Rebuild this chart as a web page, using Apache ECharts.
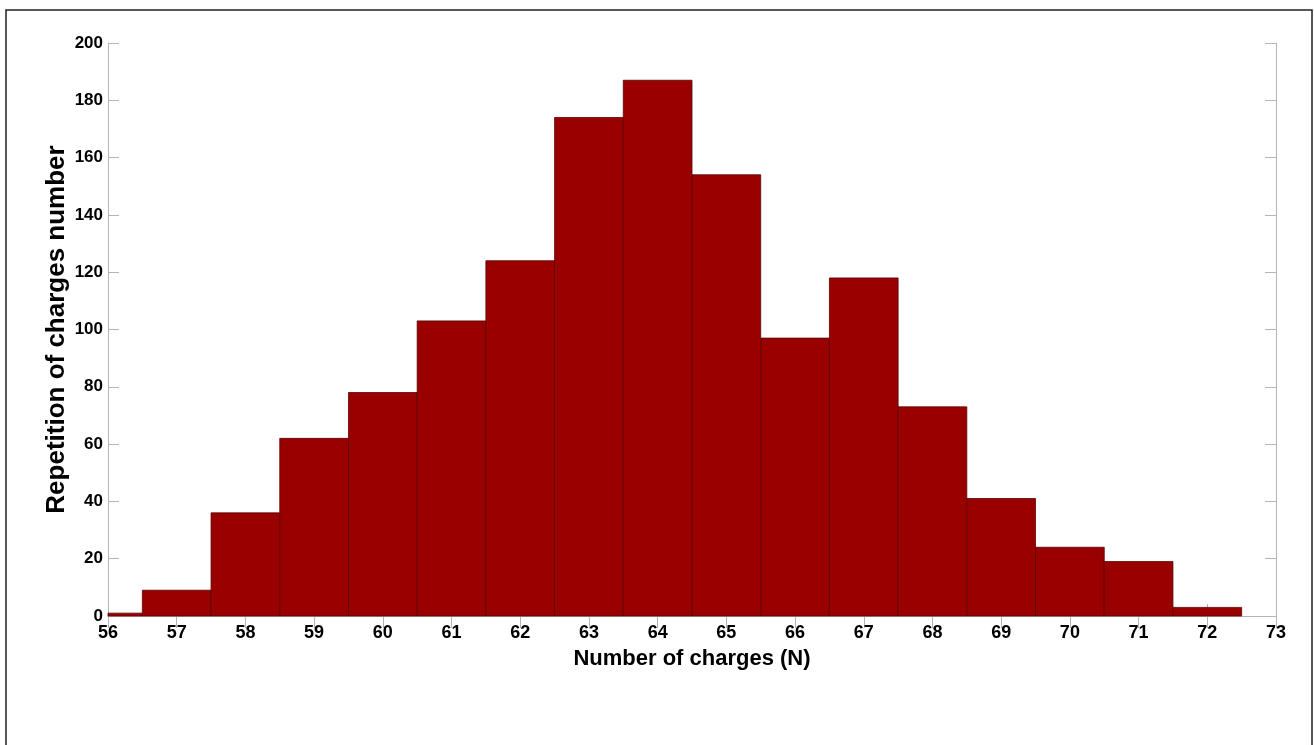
<!DOCTYPE html>
<html>
<head>
<meta charset="utf-8">
<script src="https://cdn.jsdelivr.net/npm/echarts@6/dist/echarts.min.js"></script>
<style>
  html, body { margin: 0; padding: 0; background: #fff; }
  #chart { width: 1314px; height: 745px; }
</style>
</head>
<body>
<div id="chart"></div>
<script>
// bin centres (number of charges) and counts
const CHARGES = [56, 57, 58, 59, 60, 61, 62, 63, 64, 65, 66, 67, 68, 69, 70, 71, 72];
const COUNTS = [1, 9, 36, 62, 78, 103, 124, 174, 187, 154, 97, 118, 73, 41, 24, 19, 3];

const FONT = "'Liberation Sans Narrow', 'Liberation Sans', Arial, sans-serif";
const AXIS_GREY = "#b4b4b4";

let chart = echarts.init(document.getElementById("chart"));

let option = {
  backgroundColor: "#fff",
  animation: false,
  graphic: [
    {
      type: "rect",
      shape: { x: 6, y: 10, width: 1306, height: 760 },
      style: { fill: "none", stroke: "#222", lineWidth: 1.5 },
      silent: true,
    },
  ],
  grid: { left: 108, right: 38, top: 43, bottom: 129 },
  xAxis: [
    {
      type: "value",
      min: 56,
      max: 73,
      interval: 1,
      name: "Number of charges (N)",
      nameLocation: "middle",
      nameGap: 32,
      nameMoveOverlap: false,
      nameTextStyle: { fontFamily: "'Liberation Sans', Arial, sans-serif", fontWeight: "bold", fontSize: 22, color: "#000" },
      axisLine: { lineStyle: { color: AXIS_GREY } },
      axisTick: { inside: true, length: 12, lineStyle: { color: AXIS_GREY } },
      axisLabel: { fontFamily: FONT, fontWeight: "bold", fontSize: 18, color: "#000", margin: 8 },
      splitLine: { show: false },
    },
    {
      type: "value",
      position: "top",
      min: 56,
      max: 73,
      interval: 1,
      axisLine: { show: true, lineStyle: { color: AXIS_GREY } },
      axisTick: { inside: true, length: 12, lineStyle: { color: AXIS_GREY } },
      axisLabel: { show: false },
      splitLine: { show: false },
    },
  ],
  yAxis: [
    {
      type: "value",
      min: 0,
      max: 200,
      interval: 20,
      name: "Repetition of charges number",
      nameLocation: "middle",
      nameGap: 38,
      nameMoveOverlap: false,
      nameTextStyle: { fontFamily: "'Liberation Sans', Arial, sans-serif", fontWeight: "bold", fontSize: 26, color: "#000" },
      axisLine: { show: true, lineStyle: { color: AXIS_GREY } },
      axisTick: { show: true, inside: true, length: 11, lineStyle: { color: AXIS_GREY } },
      axisLabel: { fontFamily: FONT, fontWeight: "bold", fontSize: 17, color: "#000", margin: 5 },
      splitLine: { show: false },
    },
    {
      type: "value",
      position: "right",
      min: 0,
      max: 200,
      interval: 20,
      axisLine: { show: true, lineStyle: { color: AXIS_GREY } },
      axisTick: { show: true, inside: true, length: 11, lineStyle: { color: AXIS_GREY } },
      axisLabel: { show: false },
      splitLine: { show: false },
    },
  ],
  series: [
    {
      type: "custom",
      xAxisIndex: 0,
      yAxisIndex: 0,
      renderItem: (params, api) => {
        const x = api.value(0);
        const y = api.value(1);
        const p0 = api.coord([x - 0.5, y]);
        const p1 = api.coord([x + 0.5, 0]);
        const rect = echarts.graphic.clipRectByRect(
          { x: p0[0], y: p0[1], width: p1[0] - p0[0], height: p1[1] - p0[1] },
          {
            x: params.coordSys.x,
            y: params.coordSys.y,
            width: params.coordSys.width,
            height: params.coordSys.height,
          }
        );
        if (!rect) return;
        return {
          type: "rect",
          shape: rect,
          style: { fill: "#990000", stroke: "#5a0000", lineWidth: 0.8 },
        };
      },
      encode: { x: 0, y: 1 },
      data: CHARGES.map((c, i) => [c, COUNTS[i]]),
      z: 1,
    },
  ],
};
chart.setOption(option);
</script>
</body>
</html>
